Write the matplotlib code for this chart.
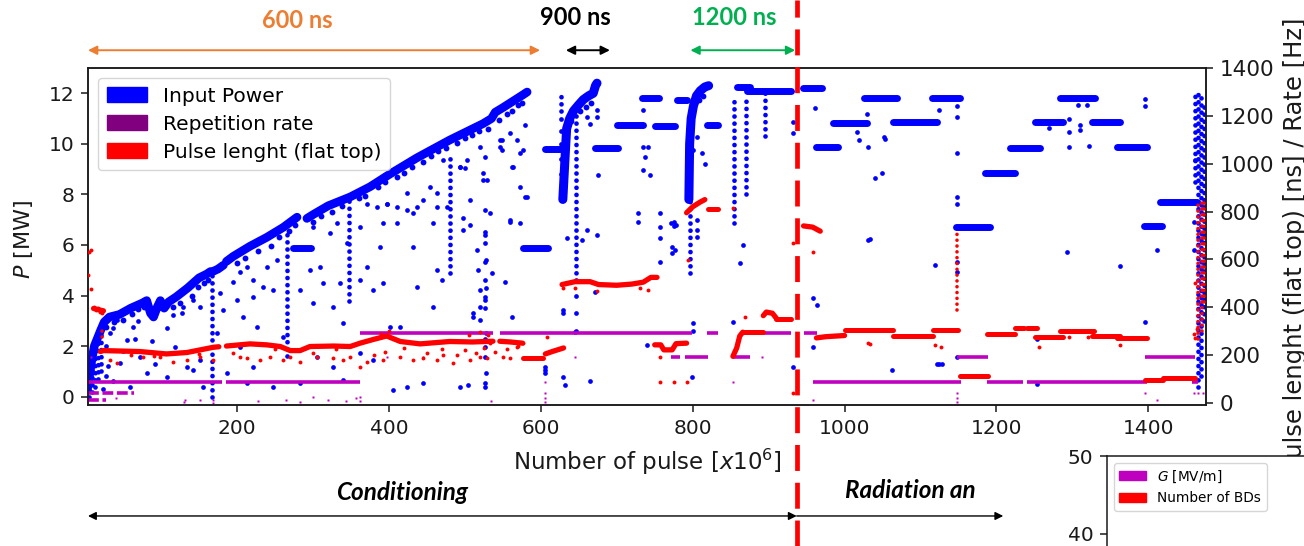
import matplotlib
matplotlib.use("Agg")
import matplotlib.pyplot as plt
from matplotlib.patches import Patch
from matplotlib.lines import Line2D
from matplotlib.transforms import blended_transform_factory

# ---------------- DATA ----------------
# x: number of pulses [x10^6]; blue: input power [MW] (left axis)
ramp1_N = [3, 6, 9, 12, 16, 20, 25, 32, 45, 60, 75, 81, 86, 90, 95, 99, 104, 110, 120, 135, 150, 160, 165]
ramp1_P = [0.3, 0.9, 1.5, 2.0, 2.3, 2.6, 2.95, 3.15, 3.25, 3.5, 3.7, 3.8, 3.3, 3.15, 3.55, 3.8, 3.5, 3.75, 3.95, 4.3, 4.7, 4.85, 4.95]
ramp2_N = [168, 175, 182]
ramp2_P = [4.95, 5.05, 5.2]
ramp3_N = [186, 195, 217, 239, 261, 279]
ramp3_P = [5.35, 5.55, 5.95, 6.3, 6.7, 7.1]
ramp4_N = [292, 300, 320, 349, 375, 401, 437, 480, 524, 535, 540, 551, 577, 582]
ramp4_P = [7.05, 7.2, 7.55, 7.9, 8.3, 8.8, 9.45, 10.15, 10.8, 11.0, 11.25, 11.45, 11.95, 12.05]
ramp900_N = [629, 632, 634, 638, 643, 650, 656, 663, 669, 672, 674]
ramp900_P = [7.8, 9.5, 10.6, 11.0, 11.3, 11.55, 11.75, 11.9, 12.0, 12.3, 12.4]
ramp1200_N = [795, 796, 798, 801, 805, 810, 816, 821]
ramp1200_P = [7.8, 10.0, 11.0, 11.5, 11.9, 12.1, 12.25, 12.3]

plat_start = [274, 577, 606, 671, 700, 733, 750, 779, 819, 858, 871, 945, 963, 985, 1025, 1064,
              1115, 1147, 1185, 1218, 1251, 1284, 1326, 1359, 1394, 1416]
plat_end = [297, 610, 626, 702, 735, 755, 777, 792, 834, 876, 929, 970, 992, 1029, 1069, 1122,
            1152, 1192, 1225, 1258, 1288, 1330, 1363, 1398, 1418, 1464]
plat_P = [5.87, 5.88, 9.78, 9.82, 10.74, 11.8, 10.72, 11.75, 10.74, 12.25, 12.1, 12.19, 9.88, 10.83, 11.8, 10.85,
          11.8, 6.72, 8.85, 9.82, 10.85, 11.8, 10.85, 9.88, 6.75, 7.68]

col_N = [5, 9, 13, 17, 21, 166.6, 265.4, 347.5, 481, 627, 647, 796, 854, 870, 895, 1462, 1466, 1470, 1474]
col_lo = [0.0, 0.2, 0.4, 0.7, 1.0, 0.0, 1.6, 3.8, 4.9, 11.3, 4.6, 4.9, 6.85, 8.0, 10.3, 8.5, 0.4, 0.8, 3.0]
col_hi = [1.3, 2.0, 2.3, 2.6, 2.8, 4.9, 6.5, 7.8, 9.6, 11.9, 11.3, 10.0, 11.9, 11.9, 12.0, 12.0, 12.1, 12.0, 11.5]

# dense points just under the rising envelope
near_env = [
    (28, 2.75), (38, 2.95), (50, 3.05), (62, 3.25), (70, 3.45), (78, 3.55), (115, 3.55), (125, 3.7),
    (140, 4.0), (148, 4.35), (156, 4.5), (162, 4.6), (200, 5.3), (210, 5.5), (228, 5.75), (245, 5.95),
    (255, 6.3), (268, 6.55), (276, 6.8), (300, 6.9), (310, 7.15), (325, 7.3), (338, 7.55), (360, 7.85),
    (368, 7.95), (385, 8.3), (395, 8.5), (410, 8.7), (420, 8.85), (430, 9.1), (445, 9.3), (455, 9.5),
    (465, 9.7), (475, 9.85), (490, 10.05), (500, 10.25), (510, 10.35), (518, 10.5), (530, 10.6),
    (545, 10.95), (556, 11.2), (562, 11.3), (570, 11.55), (575, 11.6), (640, 10.9), (652, 11.3),
    (660, 11.45), (666, 11.6), (803, 11.6), (808, 11.75), (814, 11.9),
]

blue_dots = [
    (32.7, 2.5), (41.5, 3.03), (54.6, 2.24), (63.4, 2.77), (72.2, 1.58), (81, 0.93), (59, 0.4), (45.9, 1.32),
    (28, 2.0), (30, 1.2), (36, 2.7), (50, 1.8), (66, 2.3), (70, 3.0), (88, 2.2), (92, 1.3), (36, 0.6), (24, 0.3), (28, 0.8),
    (107.3, 2.7), (116.1, 3.23), (129.3, 3.56), (127.1, 3.3), (142.5, 3.82), (151.2, 3.56), (118.3, 1.98),
    (133.7, 1.19), (107.3, 0.79), (151.2, 1.45), (155.6, 0.4), (142.5, 1.06), (177.6, 4.09), (173.2, 2.5),
    (182, 3.43), (195.2, 4.55), (204, 4.94), (212.7, 5.14), (199.5, 3.82), (208.3, 3.16), (221.5, 4.61),
    (221.5, 3.95), (234.7, 4.35), (239, 5.14), (247.8, 4.22), (252.2, 5.4), (261, 2.37), (225.9, 2.77),
    (204, 1.98), (186.4, 0.93), (212.7, 0.53), (221.5, 1.19), (247.8, 0.4), (283, 4.22), (296.1, 5.01),
    (300.5, 3.69), (309.3, 5.14), (313.7, 4.48), (322.5, 6.46), (326.9, 3.56), (340, 2.9), (344.4, 6.06),
    (335.6, 4.48), (362, 4.61), (370.8, 5.14), (379.5, 4.22), (388.3, 5.93), (392.7, 4.48), (401.5, 2.77),
    (414.7, 2.77), (423.5, 0.4), (405.9, 0.27), (432.2, 5.93), (436.6, 4.35), (445.4, 0.53), (458.6, 3.56),
    (463, 5.01), (469.6, 4.61), (384, 7.51), (397.1, 7.64), (432.2, 7.25), (458.6, 6.85), (476.1, 7.51),
    (362, 1.71), (379.5, 1.45), (326.9, 1.19), (340, 0.66), (304.9, 1.58), (283, 0.53),
    (300.5, 6.72), (331.3, 6.85), (362, 6.72), (370.8, 7.64), (397.1, 7.64), (410.3, 7.51), (423.5, 8.04),
    (436.7, 7.51), (445.4, 7.78), (454.2, 8.3), (463, 8.04), (471.8, 9.36), (493.7, 9.09), (502.5, 9.36),
    (506.9, 7.78), (520.1, 9.88), (528.9, 8.57), (533.2, 7.25), (546.4, 10.15), (548.6, 9.75), (564, 9.09),
    (568.4, 10.15), (572.7, 8.3), (577.1, 9.75), (579.3, 10.74), (579.3, 7.91), (559.6, 6.98), (572.7, 6.85),
    (463, 7.51), (423.5, 7.38), (410.3, 6.85), (392.7, 6.85),
    (498, 7.05), (498, 6.59), (506.8, 6.79), (515.6, 5.8), (517.8, 5.01), (520, 4.22), (520, 3.56), (520, 3.03),
    (511, 3.3), (511, 3.16), (493.7, 0.4), (504.6, 0.46), (535.4, 4.88), (559.5, 6.92), (552.9, 4.55),
    (561.7, 3.16), (629.8, 0.79), (632, 0.46), (629.8, 3.43), (629.8, 3.3), (634.2, 6.26), (645.2, 2.57), (653.9, 6.19),
    (660.5, 6.59), (673.7, 6.39), (671.5, 4.15), (664.9, 0.6), (728.6, 7.25), (728.6, 6.92), (757.1, 7.25),
    (757.1, 6.72), (757.1, 6.26), (757.1, 5.34), (739.5, 2.04), (776.9, 5.8), (801, 2.9), (801, 2.6),
    (805.4, 6.98), (805.4, 6.6), (805.4, 6.33), (798.8, 0.79), (853.7, 2.97), (862.5, 5.27), (866.9, 6.0),
    (932.7, 1.19), (959.1, 3.89), (963.5, 3.63), (959.1, 1.98), (1031.5, 6.19), (1062.3, 1.06),
    (772.5, 5.93), (772.5, 5.67), (772, 6.85), (775, 6.75), (778, 6.8), (776, 6.9),
    (527, 7.38), (527, 6.52), (526, 6.39), (527, 6.06), (528, 5.4), (526, 5.34), (527, 4.61), (528, 4.28),
    (527, 3.95), (526, 3.82), (527, 3.49), (528, 2.5), (527, 2.3), (526, 1.98), (527, 1.58), (528, 0.93),
    (527, 0.53), (526, 0.4), (605.6, 1.19), (605.6, 1.06), (605.6, 0.93),
    (627, 8.3), (627, 8.8), (627, 9.4), (627, 10.0), (627, 10.5), (627, 11.0),
    (647, 2.6), (647, 3.3), (647, 4.0),
    (493.7, 9.09), (500.3, 9.03), (524.4, 8.83), (524.4, 8.57), (526.6, 9.49), (548.5, 10.15), (546.4, 9.88),
    (559.5, 10.41), (572.7, 9.62), (561.7, 9.09), (581.5, 7.9), (660.5, 11.07), (664.9, 10.8),
    (673.7, 11.33), (675.9, 8.76), (673.7, 11.07), (735.2, 9.88), (737.4, 9.49), (735.2, 8.96), (743.9, 8.76),
    (741.7, 9.88), (735.2, 11.33), (805.4, 10.28), (801, 9.75), (812.1, 9.62), (816.4, 9.22), (932.7, 10.41),
    (932.7, 10.87), (961.3, 11.4), (1016.2, 10.47), (1018.4, 10.15), (1031.5, 9.88), (1051.3, 10.28),
    (1040.3, 8.63), (1049, 8.83),
    (1029.4, 11.2), (1053.5, 10.21), (1123.8, 11.33), (1148, 11.8), (1148, 11.5), (1148, 11.07), (1148, 9.62),
    (1148, 7.9), (1148, 7.64), (1148, 5.34), (1148, 4.94), (1148, 1.58),
    (1268.7, 10.61), (1295, 11.0), (1295, 10.47), (1295, 9.88), (1310.4, 10.74), (1310.4, 10.54),
    (1321.3, 9.92), (1307.3, 11.53), (1319, 11.53), (1396, 11.79), (1396, 11.49), (1461.8, 9.35),
    (1033.7, 6.22), (1119.4, 5.21), (1121.6, 1.28), (1125, 1.28), (1128, 1.28), (1253.3, 0.49),
    (1253.3, 2.27), (1292.8, 5.73), (1363, 5.17), (1396, 2.97), (1411.3, 5.8), (1459.6, 5.8), (1459.6, 6.92),
]

# red: pulse length (flat top) [ns] (right axis)
red1_N = [20, 24, 72, 107, 134, 169, 176]
red1_R = [215, 219, 215, 205, 211, 233, 235]
red2_N = [186, 217, 239, 257, 270, 283, 296, 327, 349, 362, 380, 397, 415, 441, 480, 510, 537]
red2_R = [238, 247, 243, 236, 219, 219, 236, 238, 236, 250, 266, 280, 257, 247, 257, 255, 258]
red3_N = [546, 560, 576]
red3_R = [258, 255, 250]
red4_N = [606, 615, 630]
red4_R = [205, 215, 230]
red5_N = [628, 645, 665, 676, 700, 720, 735, 745, 753]
red5_R = [495, 507, 507, 495, 492, 497, 505, 525, 525]
red6_N = [750, 758, 762, 773, 778, 792]
red6_R = [243, 243, 222, 222, 248, 250]
red7_N = [792, 800, 810, 816]
red7_R = [795, 820, 840, 850]
red8_N = [853, 858, 862, 866]
red8_R = [195, 230, 280, 296]
red9_N = [893, 897, 905, 910]
red9_R = [365, 380, 375, 355]
red10_N = [946, 958, 968]
red10_R = [740, 735, 718]
red11_N = [963, 975, 1000]
red11_R = [272, 277, 282]
red12_N = [11, 24]
red12_R = [395, 385]

redflat_start = [577, 820, 866, 910, 1000, 1064, 1117, 1152, 1187, 1225, 1240, 1251, 1284, 1326, 1359, 1396, 1420]
redflat_end = [603, 834, 893, 929, 1064, 1117, 1150, 1189, 1225, 1236, 1253, 1288, 1328, 1363, 1398, 1420, 1462]
redflat_R = [187, 810, 296, 350, 305, 280, 303, 111, 289, 312, 313, 277, 301, 280, 270, 96, 103]

redcol_N = [22, 1148, 1466, 1471, 1474]
redcol_lo = [276, 389, 266, 300, 420]
redcol_hi = [310, 711, 849, 849, 849]

red_dots = [
    (5, 633), (8, 640), (4, 536), (8, 478), (12, 403), (14, 390), (17, 395), (20, 380), (22, 376), (24, 390),
    (32.7, 180), (41.5, 166), (76.6, 194), (98.6, 194), (116.1, 173), (133.7, 180), (151.2, 194), (168.8, 180),
    (195.2, 208), (204, 194), (212.7, 187), (230.3, 180), (243.4, 194), (261, 180), (269.8, 194), (283, 173),
    (304.9, 194), (326.9, 187), (340, 180), (348.8, 194), (362, 152), (370.8, 173), (392.7, 180), (414.7, 194),
    (432.2, 180), (445.4, 187), (463, 180), (471.8, 201), (380, 200), (395, 215), (420, 230), (450, 210),
    (470, 225), (500, 220), (515, 210), (525, 230), (540, 215), (555, 225), (570, 240), (390, 290), (400, 300),
    (505, 285), (520, 295), (530, 285), (60, 200), (90, 198), (150, 205), (250, 225), (300, 210), (330, 225),
    (489.3, 201), (506.8, 180), (520, 194), (528.8, 187), (533.2, 250), (484.9, 166), (550.7, 194),
    (559.5, 187), (568.3, 236), (577.1, 250), (607.8, 277), (629.8, 480), (645.2, 480), (673.7, 466),
    (730.8, 480), (741.7, 473), (757.1, 194), (757.1, 89), (776, 89), (792, 89), (794.4, 598), (853.7, 814),
    (869, 361), (932.7, 668), (932.7, 40), (959, 633), (1031.5, 250),
    (1033.7, 247), (1119.4, 243), (1126.8, 233), (1255.5, 236), (1295, 275), (1321, 275), (1363, 243),
    (1461.8, 500), (1460, 290), (1462, 270), (1464, 310),
]

# purple: repetition rate [Hz] (right axis)
pur_start = [3.7, 186, 362, 546, 819, 871, 946, 772, 790, 853, 958, 1148, 1187, 1240, 1396, 1458]
pur_end = [180, 362, 537, 799, 834, 929, 964, 783, 820, 876, 1153, 1189, 1235, 1398, 1462, 1466]
pur_R = [89, 89, 291, 291, 291, 291, 291, 194, 194, 194, 89, 194, 89, 89, 194, 89]
pur_low_start = [4, 4]
pur_low_end = [64, 28]
pur_low_R = [40, 13]
pur_dots = [
    (131.5, 13), (151, 13), (168, 0), (168, 13), (362, 8), (362, 25), (605.6, 89), (605.6, 40), (605.6, 20),
    (605.6, 5), (645, 194), (757, 89), (853.7, 89), (891, 194), (959, 12.6), (1148, 40), (1148, 20), (1148, 5),
    (1396, 40), (1411, 13), (1460, 40), (1466, 40), (1472, 40), (397, 194), (445, 194), (535, 8), (265, 13),
    (228, 8), (300, 25), (320, 13), (343, 8), (8, 194), (40, 20), (130, 5), (283, 5), (356, 20),
]

# annotations
phase_labels = ["600 ns", "900 ns", "1200 ns"]
phase_colors = ["#ED7D31", "#000000", "#00B050"]
phase_start = [3.7, 633, 797]
phase_end = [599, 691, 935]
phase_text_N = [279, 646, 855]
N_separation = 937
cond_text_N = 417
rad_text_N = 1001
rad_arrow_end = 1209

# ---------------- FIGURE ----------------
W, H = 1304, 546
BLUE, RED, PURP = "#0000ff", "#ff0000", "#bf00bf"
INK = "#1a1a1a"
fig = plt.figure(figsize=(W / 100, H / 100), dpi=100)
ax = fig.add_axes([88 / W, 1 - 405 / H, (1206 - 88) / W, (405 - 68) / H])
ax2 = ax.twinx()

# blue series
for Ns, Ps in [(ramp1_N, ramp1_P), (ramp2_N, ramp2_P), (ramp3_N, ramp3_P), (ramp4_N, ramp4_P)]:
    ax.plot(Ns, Ps, color=BLUE, lw=6.2, solid_capstyle="round", solid_joinstyle="round", zorder=2)
for Ns, Ps in [(ramp900_N, ramp900_P), (ramp1200_N, ramp1200_P)]:
    ax.plot(Ns, Ps, color=BLUE, lw=6.5, solid_capstyle="round", solid_joinstyle="round", zorder=2)
for s, e, p in zip(plat_start, plat_end, plat_P):
    ax.plot([s, e], [p, p], color=BLUE, lw=5, solid_capstyle="round", zorder=2)
for n, lo, hi in zip(col_N, col_lo, col_hi):
    ax.plot([n, n], [lo, hi], color=BLUE, lw=3.4, linestyle=(0, (0.01, 1.5)),
            dash_capstyle="round", zorder=2)
ax.plot([d[0] for d in near_env], [d[1] for d in near_env], "o", color=BLUE, ms=4.2, mec="none", zorder=2)
ax.plot([d[0] for d in blue_dots], [d[1] for d in blue_dots], "o", color=BLUE, ms=3.4, mec="none", zorder=2)

# purple series
for s, e, r in zip(pur_start, pur_end, pur_R):
    ax2.plot([s, e], [r, r], color=PURP, lw=2.6, solid_capstyle="butt", zorder=2)
for s, e, r in zip(pur_low_start, pur_low_end, pur_low_R):
    ax2.plot([s, e], [r, r], color=PURP, lw=2.6, linestyle=(0, (3, 1)), zorder=2)
ax2.plot([d[0] for d in pur_dots], [d[1] for d in pur_dots], "s", color=PURP, ms=2.0, mec="none", zorder=2)

# red series
for Ns, Rs in [(red1_N, red1_R), (red2_N, red2_R), (red3_N, red3_R), (red4_N, red4_R), (red5_N, red5_R),
               (red6_N, red6_R), (red7_N, red7_R), (red8_N, red8_R), (red9_N, red9_R), (red10_N, red10_R),
               (red11_N, red11_R), (red12_N, red12_R)]:
    ax2.plot(Ns, Rs, color=RED, lw=3.8, solid_capstyle="round", solid_joinstyle="round", zorder=3)
for s, e, r in zip(redflat_start, redflat_end, redflat_R):
    ax2.plot([s, e], [r, r], color=RED, lw=3.6, solid_capstyle="round", zorder=3)
for n, lo, hi in zip(redcol_N, redcol_lo, redcol_hi):
    ax2.plot([n, n], [lo, hi], color=RED, lw=2.6, linestyle=(0, (0.01, 1.6)), dash_capstyle="round", zorder=3)
ax2.plot([d[0] for d in red_dots], [d[1] for d in red_dots], "o", color=RED, ms=2.8, mec="none", zorder=3)

# axes formatting
ax.set_xlim(3.7, 1476)
ax.set_ylim(-0.33, 13.0)
ax2.set_ylim(-8.4, 1400)
ax.set_xticks([200, 400, 600, 800, 1000, 1200, 1400])
ax.set_yticks([0, 2, 4, 6, 8, 10, 12])
ax2.set_yticks([0, 200, 400, 600, 800, 1000, 1200, 1400])
for a in (ax, ax2):
    a.tick_params(length=4.9, width=1.1, pad=4.9, colors=INK, labelcolor=INK)
    for sp in a.spines.values():
        sp.set_linewidth(1.1)
        sp.set_color(INK)
ax.tick_params(labelsize=14.5)
ax2.tick_params(labelsize=15.5)

ax.set_xlabel("Number of pulse [$x10^6$]", fontsize=16.5, color=INK)
ax.xaxis.set_label_coords(0.5, -0.125)
ax.set_ylabel("$P$ [MW]", fontsize=16, color=INK)
ax.yaxis.set_label_coords(-0.047, 0.49)
ax2.set_ylabel("Pulse lenght (flat top) [ns] / Rate [Hz]", fontsize=17.5, color=INK)
ax2.yaxis.set_label_coords(1.069, 0.475)

handles = [Patch(color=BLUE, label="Input Power"),
           Patch(color="#800080", label="Repetition rate"),
           Patch(color=RED, label="Pulse lenght (flat top)")]
ax2.legend(handles=handles, loc="upper left", fontsize=14.5, framealpha=0.8, handlelength=2.0,
           handleheight=0.75, labelspacing=0.45, borderpad=0.42, handletextpad=0.8)

# inset axes (bottom right), drawn over the right axis label
ax3 = fig.add_axes([1107 / W, 0, 0.3, (546 - 456) / H])
ax3.set_ylim(38.46, 50)
ax3.set_yticks([40, 50])
ax3.set_xticks([])
ax3.spines["right"].set_visible(False)
ax3.spines["bottom"].set_visible(False)
for sp in ax3.spines.values():
    sp.set_linewidth(1.1)
    sp.set_color(INK)
ax3.tick_params(labelsize=14.5, length=4.9, width=1.1, pad=4.9, colors=INK)
ax3.legend(handles=[Patch(color=PURP, label="$G$ [MV/m]"), Patch(color=RED, label="Number of BDs")],
           loc="upper left", fontsize=9.8, framealpha=0.8)

# annotations
tr = blended_transform_factory(ax.transData, fig.transFigure)
FONT = ["Lato", "DejaVu Sans"]
for lab, col, s, e, tn in zip(phase_labels, phase_colors, phase_start, phase_end, phase_text_N):
    ax.annotate("", xy=(s, 0.908), xytext=(e, 0.908), xycoords=tr, textcoords=tr, annotation_clip=False,
                arrowprops=dict(arrowstyle="<|-|>", color=col, lw=1.4, mutation_scale=13,
                                shrinkA=0, shrinkB=0))
    yb = 0.9487 if lab == "600 ns" else 0.9542
    ax.text(tn, yb, lab, transform=tr, color=col, fontsize=17, fontweight="bold", family=FONT,
            ha="center", va="baseline")

ax.annotate("", xy=(ax.get_xlim()[0], 0.055), xytext=(N_separation, 0.055), xycoords=tr, textcoords=tr,
            annotation_clip=False,
            arrowprops=dict(arrowstyle="<|-|>", color="black", lw=1.0, mutation_scale=12, shrinkA=0, shrinkB=0))
ax.annotate("", xy=(N_separation, 0.055), xytext=(rad_arrow_end, 0.055), xycoords=tr, textcoords=tr,
            annotation_clip=False,
            arrowprops=dict(arrowstyle="<|-", color="black", lw=1.0, mutation_scale=12, shrinkA=0, shrinkB=0))
ax.text(cond_text_N, 0.0842, "Conditioning", transform=tr, fontsize=17.5, fontweight="bold", fontstyle="italic",
        family=FONT, ha="center", va="baseline")
ax.text(rad_text_N, 0.0879, "Radiation an", transform=tr, fontsize=17.5, fontweight="bold", fontstyle="italic",
        family=FONT, ha="left", va="baseline")

fig.add_artist(Line2D([N_separation, N_separation], [0, 1], transform=tr, color=RED, lw=3.4,
                      linestyle=(0, (5.5, 2.5)), zorder=10))

fig.savefig("out.png", dpi=100)
